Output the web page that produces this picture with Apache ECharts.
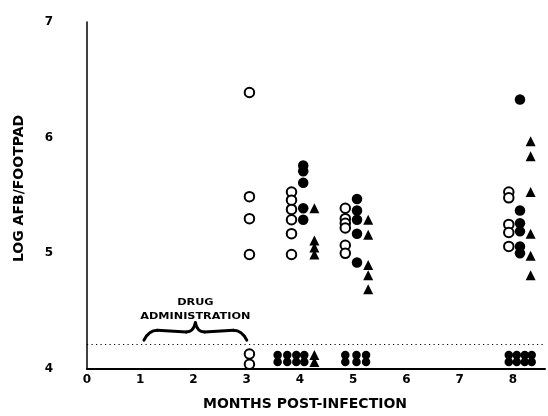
<!DOCTYPE html>
<html>
<head>
<meta charset="utf-8">
<script src="https://cdn.jsdelivr.net/npm/echarts@6/dist/echarts.min.js"></script>
<style>
html,body{margin:0;padding:0;background:#fff;}
#chart{width:548px;height:416px;}
</style>
</head>
<body>
<div id="chart"></div>
<script>
// ---- data (x = months post-infection, jittered per group; y = log AFB/footpad) ----
const xTicks = [0, 1, 2, 3, 4, 5, 6, 7, 8];
const yTicks = [4, 5, 6, 7];
const detectionLimit = 4.21;

const openCircles = [
  [3.05, 6.39], [3.05, 5.49], [3.05, 5.30], [3.05, 4.99], [3.05, 4.13], [3.05, 4.04],
  [3.84, 5.53], [3.84, 5.46], [3.84, 5.38], [3.84, 5.29], [3.84, 5.17], [3.84, 4.99],
  [4.85, 5.39], [4.85, 5.30], [4.85, 5.26], [4.85, 5.22], [4.85, 5.07], [4.85, 5.00],
  [7.92, 5.53], [7.92, 5.48], [7.92, 5.25], [7.92, 5.18], [7.92, 5.06]
];
const filledCircles = [
  [4.06, 5.76], [4.06, 5.71], [4.06, 5.61], [4.06, 5.39], [4.06, 5.29],
  [5.07, 5.47], [5.07, 5.37], [5.07, 5.29], [5.07, 5.17], [5.07, 4.92],
  [8.13, 6.33], [8.13, 5.37], [8.13, 5.26], [8.13, 5.19], [8.13, 5.06], [8.13, 5.00]
];
const triangles = [
  [4.27, 5.39], [4.27, 5.11], [4.27, 5.05], [4.27, 4.99], [4.27, 4.12], [4.27, 4.06],
  [5.28, 5.29], [5.28, 5.16], [5.28, 4.90], [5.28, 4.81], [5.28, 4.69],
  [8.33, 5.97], [8.33, 5.84], [8.33, 5.53], [8.33, 5.17], [8.33, 4.98], [8.33, 4.81]
];
const belowLimit = [
  [3.58, 4.12], [3.76, 4.12], [3.93, 4.12], [4.08, 4.12],
  [3.58, 4.06], [3.76, 4.06], [3.93, 4.06], [4.08, 4.06],
  [4.85, 4.12], [5.06, 4.12], [5.24, 4.12],
  [4.85, 4.06], [5.06, 4.06], [5.24, 4.06],
  [7.92, 4.12], [8.07, 4.12], [8.22, 4.12], [8.35, 4.12],
  [7.92, 4.06], [8.07, 4.06], [8.22, 4.06], [8.35, 4.06]
];
const annotationLines = ['DRUG', 'ADMINISTRATION'];
const drugPeriod = [1.07, 3.0];

const FONT = 'DejaVu Sans';
const chart = echarts.init(document.getElementById('chart'), null, {renderer: 'canvas'});

chart.setOption({
  animation: false,
  backgroundColor: '#fff',
  grid: {left: 87, right: 3, top: 22, bottom: 44, containLabel: false},
  xAxis: {
    type: 'value', min: 0, max: 8.6, interval: 1,
    name: 'MONTHS POST-INFECTION', nameLocation: 'middle', nameGap: 28,
    nameTextStyle: {fontFamily: FONT, fontWeight: 'bold', fontSize: 14, color: '#000', padding: [0, 22, 0, 0]},
    axisLine: {lineStyle: {color: '#000', width: 2}},
    axisTick: {show: false},
    splitLine: {show: false},
    axisLabel: {
      showMaxLabel: false, margin: 5,
      fontFamily: FONT, fontWeight: 'bold', fontSize: 12, color: '#000',
      formatter: v => xTicks.includes(v) ? String(v) : ''
    }
  },
  yAxis: {
    type: 'value', min: 4, max: 7, interval: 1,
    name: 'LOG AFB/FOOTPAD', nameLocation: 'middle', nameGap: 61, nameRotate: 90,
    nameTextStyle: {fontFamily: FONT, fontWeight: 'bold', fontSize: 14, color: '#000', padding: [0, 0, 0, 14]},
    axisLine: {show: true, lineStyle: {color: '#000', width: 1.5}},
    axisTick: {show: false},
    splitLine: {show: false},
    axisLabel: {
      margin: 34, fontFamily: FONT, fontWeight: 'bold', fontSize: 12, color: '#000',
      formatter: v => yTicks.includes(v) ? String(v) : ''
    }
  },
  series: [
    {
      type: 'scatter', name: 'below', data: belowLimit, symbol: 'circle', symbolSize: 8.5,
      itemStyle: {color: '#000', opacity: 1}, z: 3,
      markLine: {
        silent: true, symbol: 'none', label: {show: false},
        lineStyle: {color: '#000', width: 1, type: [1.2, 3.3]},
        data: [{yAxis: detectionLimit}]
      }
    },
    {
      type: 'scatter', name: 'open', data: openCircles, symbol: 'circle', symbolSize: 9.5,
      itemStyle: {color: '#fff', borderColor: '#000', borderWidth: 2, opacity: 1}, z: 4
    },
    {
      type: 'scatter', name: 'filled', data: filledCircles, symbol: 'circle', symbolSize: 10.5,
      itemStyle: {color: '#000', opacity: 1}, z: 5
    },
    {
      type: 'scatter', name: 'triangle', data: triangles, symbol: 'triangle', symbolSize: 10,
      itemStyle: {color: '#000', opacity: 1}, z: 5
    }
  ]
});

// annotation: brace + text placed in data coordinates
function px(x, y) { return chart.convertToPixel({gridIndex: 0}, [x, y]); }
const x0 = drugPeriod[0], x1 = drugPeriod[1], xm = (x0 + x1) / 2;
const pL = px(x0, 4.25), pL2 = px(x0 + 0.25, 4.335), pML = px(xm - 0.17, 4.32), pTop = px(xm, 4.40);
const pMR = px(xm + 0.17, 4.32), pR2 = px(x1 - 0.25, 4.335), pR = px(x1, 4.25);
const braceStyle = {stroke: '#000', lineWidth: 3, lineCap: 'round', fill: null};
const t1 = px(xm, 4.57), t2 = px(xm, 4.45);
chart.setOption({
  graphic: [
    {type: 'bezierCurve', shape: {x1: pL[0], y1: pL[1], cpx1: pL[0] + 5, cpy1: pL2[1], x2: pL2[0], y2: pL2[1]}, style: braceStyle},
    {type: 'line', shape: {x1: pL2[0], y1: pL2[1], x2: pML[0], y2: pML[1]}, style: braceStyle},
    {type: 'bezierCurve', shape: {x1: pML[0], y1: pML[1], cpx1: pTop[0] - 2, cpy1: pML[1], x2: pTop[0], y2: pTop[1]}, style: braceStyle},
    {type: 'bezierCurve', shape: {x1: pTop[0], y1: pTop[1], cpx1: pTop[0] + 2, cpy1: pMR[1], x2: pMR[0], y2: pMR[1]}, style: braceStyle},
    {type: 'line', shape: {x1: pMR[0], y1: pMR[1], x2: pR2[0], y2: pR2[1]}, style: braceStyle},
    {type: 'bezierCurve', shape: {x1: pR2[0], y1: pR2[1], cpx1: pR[0] - 5, cpy1: pR2[1], x2: pR[0], y2: pR[1]}, style: braceStyle},
    {type: 'text', x: t1[0], y: t1[1], scaleX: 1.25,
      style: {text: annotationLines[0], fontFamily: FONT, fontWeight: 'bold', fontSize: 9, fill: '#000', align: 'center', verticalAlign: 'middle'}},
    {type: 'text', x: t2[0], y: t2[1], scaleX: 1.25,
      style: {text: annotationLines[1], fontFamily: FONT, fontWeight: 'bold', fontSize: 9, fill: '#000', align: 'center', verticalAlign: 'middle'}}
  ]
});
</script>
</body>
</html>
